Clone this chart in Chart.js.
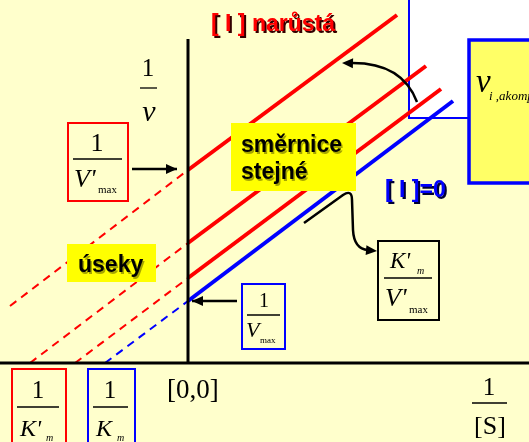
<!DOCTYPE html>
<html lang="cs">
<head>
<meta charset="utf-8">
<title>Akompetitivní inhibice</title>
<script src="https://cdn.jsdelivr.net/npm/chart.js@4.4.1/dist/chart.umd.min.js"></script>
<style>
  html, body { margin: 0; padding: 0; background: #FFFFCC; }
  #graf { display: block; }
</style>
</head>
<body>
<canvas id="graf" width="529" height="442"></canvas>
<script>
// rozsah os 1/[S] a 1/v
const rozsahX = [-3.76, 6.82];
const rozsahY = [-1.58, 7.26];
const vrcholOsyY = 6.48;

// primky: [I]=0 (modra) a tri rostouci [I] (cervene), stejna smernice
const nazvyPrimek = ['[I]=0', '[I] 1', '[I] 2', '[I] 3'];
const useky = [1.24, 1.70, 2.40, 3.86];            // 1/Vmax na ose y
const koncePrimek = [[5.30, 5.24], [5.06, 5.48], [4.76, 5.94], [4.18, 6.96]];
const zacatkyCarkovane = [[-1.66, 0], [-2.26, 0], [-3.16, 0], [-3.56, 1.14]];

const SERIF = '"Liberation Serif", "DejaVu Serif", serif';
const SANS = '"Liberation Sans", Arial, sans-serif';

let datasets = [];
for (let i = 0; i < useky.length; i++) {
    let barva = i == 0 ? '#0000FF' : '#FF0000';
    // plna cast od osy y doprava
    datasets.push({
        label: nazvyPrimek[i],
        data: [{ x: 0, y: useky[i] }, { x: koncePrimek[i][0], y: koncePrimek[i][1] }],
        showLine: true,
        borderColor: barva,
        borderWidth: 4,
        pointRadius: 0
    });
    // carkovane prodlouzeni k ose x
    datasets.push({
        label: nazvyPrimek[i] + ' extrapolace',
        data: [{ x: zacatkyCarkovane[i][0], y: zacatkyCarkovane[i][1] }, { x: 0, y: useky[i] }],
        showLine: true,
        borderColor: barva,
        borderWidth: 2,
        borderDash: [8, 6],
        pointRadius: 0
    });
}

function text(ctx, s, x, y, font, color, align) {
    ctx.font = font;
    ctx.fillStyle = color || '#000';
    ctx.textAlign = align || 'left';
    ctx.textBaseline = 'alphabetic';
    ctx.fillText(s, x, y);
}

function ramecek(ctx, x, y, w, h, vypln, obrys, sirka) {
    if (vypln) {
        ctx.fillStyle = vypln;
        ctx.fillRect(x, y, w, h);
    }
    if (obrys) {
        ctx.strokeStyle = obrys;
        ctx.lineWidth = sirka || 2;
        ctx.strokeRect(x, y, w, h);
    }
}

function hrot(ctx, x, y, uhel) {
    ctx.save();
    ctx.translate(x, y);
    ctx.rotate(uhel);
    ctx.beginPath();
    ctx.moveTo(0, 0);
    ctx.lineTo(-11, -5);
    ctx.lineTo(-11, 5);
    ctx.closePath();
    ctx.fillStyle = '#000';
    ctx.fill();
    ctx.restore();
}

function sipka(ctx, x1, y1, x2, y2) {
    ctx.beginPath();
    ctx.moveTo(x1, y1);
    ctx.lineTo(x2, y2);
    ctx.strokeStyle = '#000';
    ctx.lineWidth = 2.5;
    ctx.stroke();
    hrot(ctx, x2, y2, Math.atan2(y2 - y1, x2 - x1));
}

function zlomekCara(ctx, x1, x2, y) {
    ctx.beginPath();
    ctx.moveTo(x1, y);
    ctx.lineTo(x2, y);
    ctx.strokeStyle = '#000';
    ctx.lineWidth = 1.3;
    ctx.stroke();
}

function stinText(ctx, s, x, y, font, color, stin) {
    ctx.save();
    ctx.shadowColor = stin;
    ctx.shadowOffsetX = 2;
    ctx.shadowOffsetY = 2;
    ctx.shadowBlur = 0;
    text(ctx, s, x, y, font, color);
    ctx.restore();
}

// pozadi a bily ramecek pod primkami
const pozadi = {
    id: 'pozadi',
    beforeDraw(chart) {
        const ctx = chart.ctx;
        ctx.save();
        ctx.fillStyle = '#FFFFCC';
        ctx.fillRect(0, 0, chart.width, chart.height);
        ramecek(ctx, 409, -5, 140, 123, '#FFFFFF', '#0000FF', 2);
        ctx.restore();
    }
};

// osy, popisky, ramecky se zlomky a sipky
const popisky = {
    id: 'popisky',
    afterDatasetsDraw(chart) {
        const ctx = chart.ctx;
        const sx = chart.scales.x;
        const sy = chart.scales.y;
        const x0 = sx.getPixelForValue(0);
        const y0 = sy.getPixelForValue(0);
        ctx.save();

        // osy
        ctx.strokeStyle = '#000';
        ctx.lineWidth = 3;
        ctx.beginPath();
        ctx.moveTo(0, y0);
        ctx.lineTo(chart.width, y0);
        ctx.moveTo(x0, sy.getPixelForValue(vrcholOsyY));
        ctx.lineTo(x0, y0);
        ctx.stroke();

        // 1/v
        text(ctx, '1', 148, 76, '25px ' + SERIF, '#000', 'center');
        zlomekCara(ctx, 140, 157, 88);
        text(ctx, 'v', 149, 121, 'italic 30px ' + SERIF, '#000', 'center');

        // 1/[S]
        text(ctx, '1', 489, 395, '25px ' + SERIF, '#000', 'center');
        zlomekCara(ctx, 472, 507, 403);
        text(ctx, '[S]', 490, 434, '26px ' + SERIF, '#000', 'center');

        text(ctx, '[0,0]', 167, 398, '27px ' + SERIF);

        // nadpisy
        stinText(ctx, '[ I ] narůstá', 211, 31, 'bold 23px ' + SANS, '#FF0000', '#330000');
        stinText(ctx, '[ I ]=0', 385, 197, 'bold 23px ' + SANS, '#0000FF', '#000033');

        // smernice stejne
        ramecek(ctx, 231, 123, 125, 68, '#FFFF00');
        ctx.save();
        ctx.shadowColor = 'rgba(0,0,0,0.35)';
        ctx.shadowOffsetX = 1.5;
        ctx.shadowOffsetY = 1.5;
        text(ctx, 'směrnice', 241, 152, 'bold 23px ' + SANS);
        text(ctx, 'stejné', 241, 179, 'bold 23px ' + SANS);
        ctx.restore();

        // useky
        ramecek(ctx, 67, 244, 89, 38, '#FFFF00');
        ctx.save();
        ctx.shadowColor = 'rgba(0,0,0,0.35)';
        ctx.shadowOffsetX = 1.5;
        ctx.shadowOffsetY = 1.5;
        text(ctx, 'úseky', 78, 272, 'bold 23px ' + SANS);
        ctx.restore();

        // v i,akomp
        ramecek(ctx, 469, 40, 80, 143, '#FFFF66', '#0000FF', 3.5);
        text(ctx, 'v', 476, 92, 'italic 33px ' + SERIF);
        text(ctx, 'i ,akomp', 489, 100, 'italic 13px ' + SERIF);

        // 1/V'max (cerveny)
        ramecek(ctx, 68, 123, 60, 78, null, '#FF0000', 2);
        text(ctx, '1', 97, 151, '26px ' + SERIF, '#000', 'center');
        zlomekCara(ctx, 73, 122, 159);
        text(ctx, "V'", 74, 187, 'italic 26px ' + SERIF);
        text(ctx, 'max', 98, 193, '11px ' + SERIF);
        sipka(ctx, 132, 169, 177, 169);

        // 1/Vmax (modry)
        ramecek(ctx, 242, 284, 43, 65, null, '#0000FF', 2);
        text(ctx, '1', 264, 307, '20px ' + SERIF, '#000', 'center');
        zlomekCara(ctx, 247, 280, 315);
        text(ctx, 'V', 246, 337, 'italic 22px ' + SERIF);
        text(ctx, 'max', 260, 343, '9px ' + SERIF);
        sipka(ctx, 237, 301, 192, 301);

        // K'm/V'max
        ramecek(ctx, 378, 241, 61, 79, null, '#000', 2);
        text(ctx, "K'", 390, 268, 'italic 23px ' + SERIF);
        text(ctx, 'm', 417, 274, 'italic 10px ' + SERIF);
        zlomekCara(ctx, 384, 432, 278);
        text(ctx, "V'", 385, 306, 'italic 26px ' + SERIF);
        text(ctx, 'max', 409, 313, '11px ' + SERIF);

        // 1/K'm a 1/Km dole
        ramecek(ctx, 12, 369, 54, 90, null, '#FF0000', 2);
        text(ctx, '1', 38, 398, '25px ' + SERIF, '#000', 'center');
        zlomekCara(ctx, 17, 59, 407);
        text(ctx, "K'", 20, 436, 'italic 24px ' + SERIF);
        text(ctx, 'm', 46, 441, 'italic 10px ' + SERIF);

        ramecek(ctx, 88, 369, 47, 90, null, '#0000FF', 2);
        text(ctx, '1', 110, 398, '25px ' + SERIF, '#000', 'center');
        zlomekCara(ctx, 93, 128, 407);
        text(ctx, 'K', 96, 436, 'italic 24px ' + SERIF);
        text(ctx, 'm', 117, 441, 'italic 10px ' + SERIF);

        // zahnute sipky
        ctx.strokeStyle = '#000';
        ctx.lineWidth = 2.5;
        ctx.beginPath();
        ctx.moveTo(417, 102);
        ctx.quadraticCurveTo(402, 62, 350, 63);
        ctx.stroke();
        hrot(ctx, 342, 63, Math.PI + 0.03);

        ctx.beginPath();
        ctx.moveTo(304, 223);
        ctx.lineTo(343, 195);
        ctx.quadraticCurveTo(352, 189, 352, 200);
        ctx.lineTo(353, 230);
        ctx.quadraticCurveTo(354, 249, 368, 250);
        ctx.stroke();
        hrot(ctx, 377, 251, 0.08);

        ctx.restore();
    }
};

new Chart(document.getElementById('graf'), {
    type: 'scatter',
    data: { datasets: datasets },
    options: {
        responsive: false,
        animation: false,
        layout: { padding: 0 },
        plugins: {
            legend: { display: false },
            tooltip: { enabled: false }
        },
        scales: {
            x: { type: 'linear', display: false, min: rozsahX[0], max: rozsahX[1] },
            y: { type: 'linear', display: false, min: rozsahY[0], max: rozsahY[1] }
        }
    },
    plugins: [pozadi, popisky]
});
</script>
</body>
</html>
